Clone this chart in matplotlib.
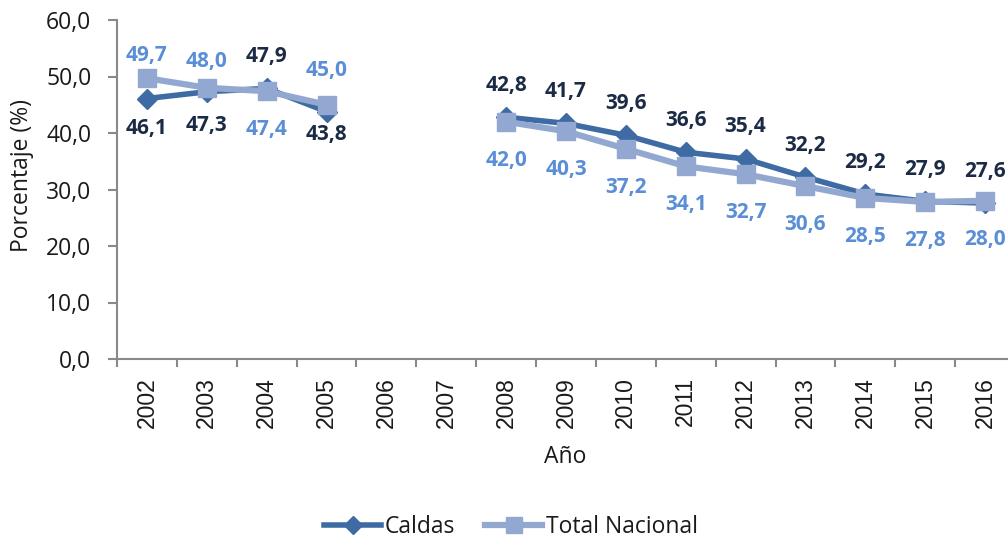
import numpy as np
import matplotlib
matplotlib.use("Agg")
import matplotlib.pyplot as plt
from matplotlib.lines import Line2D

plt.rcParams['font.family'] = ['Open Sans', 'DejaVu Sans']

years = ["2002", "2003", "2004", "2005", "2006", "2007", "2008", "2009",
         "2010", "2011", "2012", "2013", "2014", "2015", "2016"]
caldas = [46.1, 47.3, 47.9, 43.8, np.nan, np.nan, 42.8, 41.7, 39.6, 36.6,
          35.4, 32.2, 29.2, 27.9, 27.6]
nacional = [49.7, 48.0, 47.4, 45.0, np.nan, np.nan, 42.0, 40.3, 37.2, 34.1,
            32.7, 30.6, 28.5, 27.8, 28.0]
# label placement: +1 above, -1 below
caldas_pos = [-1, -1, 1, -1, 0, 0, 1, 1, 1, 1, 1, 1, 1, 1, 1]
nacional_pos = [1, 1, -1, 1, 0, 0, -1, -1, -1, -1, -1, -1, -1, -1, -1]
yticks = [0, 10, 20, 30, 40, 50, 60]

# label offsets (pixels) from the marker, with a few manual tweaks
caldas_dy = {"2002": -29.5, "2003": -34, "2005": -23}
nacional_dy = {"2002": 23, "2003": 26, "2005": 34}
CALDAS_UP, CALDAS_DOWN = 32, -29
NAC_UP, NAC_DOWN = 25, -38.5

c_caldas = "#3E6BA3"
c_nac = "#93A8D1"
c_lab_caldas = "#1C2B45"
c_lab_nac = "#5A8ED6"
c_text = "#1a1a1a"
c_axis = "#898989"

W, H = 1008, 537
fig = plt.figure(figsize=(W / 100, H / 100), dpi=100)
ax = fig.add_axes([117 / W, (H - 359) / H, (1015 - 117) / W, (359 - 20) / H])

x = np.arange(len(years))
ax.plot(x, caldas, color=c_caldas, lw=4, marker='D', ms=10,
        markerfacecolor=c_caldas, markeredgecolor=c_caldas, zorder=3)
ax.plot(x, nacional, color=c_nac, lw=4.5, marker='s', ms=13,
        markerfacecolor=c_nac, markeredgecolor=c_nac, zorder=4)

def fmt(v):
    return f"{v:.1f}".replace(".", ",")

PX = 0.72  # points per pixel at dpi 100

for xi, yr, v, p in zip(x, years, caldas, caldas_pos):
    if np.isnan(v):
        continue
    dy = caldas_dy.get(yr, CALDAS_UP if p > 0 else CALDAS_DOWN)
    ax.annotate(fmt(v), (xi, v), xytext=(0, dy * PX),
                textcoords='offset points', ha='center', va='center',
                fontsize=15, fontweight='bold', color=c_lab_caldas,
                annotation_clip=False)
for xi, yr, v, p in zip(x, years, nacional, nacional_pos):
    if np.isnan(v):
        continue
    dy = nacional_dy.get(yr, NAC_UP if p > 0 else NAC_DOWN)
    ax.annotate(fmt(v), (xi, v), xytext=(0, dy * PX),
                textcoords='offset points', ha='center', va='center',
                fontsize=15, fontweight='bold', color=c_lab_nac,
                annotation_clip=False)

ax.set_xlim(-0.5, len(years) - 0.5)
ax.set_ylim(0, 60)
ax.set_yticks(yticks)
ax.set_yticklabels([fmt(t) for t in yticks], fontsize=16.5, color=c_text)
ax.set_xticks(x)
ax.set_xticklabels(years, rotation=90, fontsize=16.5, color=c_text,
                   family=['Liberation Sans', 'DejaVu Sans'])
ax.set_xticks(np.arange(-0.5, len(years), 1), minor=True)
ax.tick_params(axis='x', which='major', length=0, pad=13)
ax.tick_params(axis='x', which='minor', length=6, color=c_axis, width=1.5)
ax.tick_params(axis='y', length=6.5, color=c_axis, width=1.5, pad=12)

for s in ['top', 'right']:
    ax.spines[s].set_visible(False)
for s in ['left', 'bottom']:
    ax.spines[s].set_color(c_axis)
    ax.spines[s].set_linewidth(1.5)

fig.text(22 / W, 1 - 176 / H, "Porcentaje (%)", rotation=90, fontsize=16.5,
         ha='center', va='center', color=c_text)
fig.text(565 / W, 1 - 457 / H, "Año", fontsize=16.5, ha='center',
         va='center', color=c_text)

handles = [
    Line2D([], [], color=c_caldas, lw=4, marker='D', ms=9),
    Line2D([], [], color=c_nac, lw=4.5, marker='s', ms=11),
]
fig.legend(handles, ["Caldas", "Total Nacional"], loc='center',
           bbox_to_anchor=(511 / W, 1 - 527 / H), ncol=2, frameon=False,
           fontsize=16.5, handlelength=2.5, handletextpad=0.15,
           columnspacing=1.3, labelcolor=c_text)

fig.savefig("out.png", dpi=100)
